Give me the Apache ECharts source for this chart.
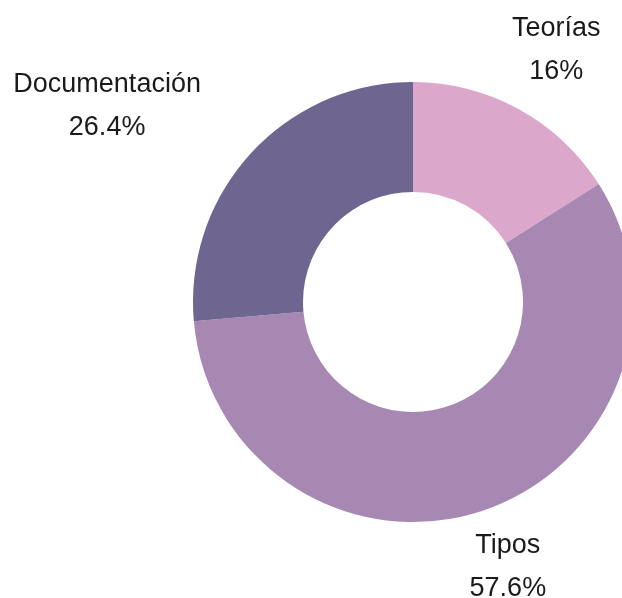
<!DOCTYPE html>
<html>
<head>
<meta charset="utf-8">
<script src="https://cdn.jsdelivr.net/npm/echarts@6/dist/echarts.min.js"></script>
<style>
  html, body { margin: 0; padding: 0; background: #fff; }
  #main { width: 622px; height: 598px; }
</style>
</head>
<body>
<div id="main"></div>
<script>
const categories = ["Teorías", "Tipos", "Documentación"];
const values = [16, 57.6, 26.4];
const colors = ["#dba8cc", "#a788b2", "#6e6690"];
// label line lengths per slice (radial, horizontal)
const lineLen = [67, 60, 70];
const lineLen2 = [0, 0, 87];

const chart = echarts.init(document.getElementById("main"));

const data = categories.map((name, i) => ({
  name: name,
  value: values[i],
  itemStyle: { color: colors[i] },
  labelLine: { show: false, length: lineLen[i], length2: lineLen2[i] },
}));

chart.setOption({
  animation: false,
  series: [
    {
      type: "pie",
      center: [413, 302],
      radius: [110, 220],
      startAngle: 90,
      clockwise: true,
      avoidLabelOverlap: false,
      label: {
        show: true,
        position: "outside",
        formatter: "{b}\n{d}%",
        fontFamily: "Liberation Sans, Arial, sans-serif",
        fontSize: 27,
        lineHeight: 43,
        color: "#1a1a1a",
      },
      labelLine: { show: false },
      labelLayout: { align: "center", verticalAlign: "middle" },
      emphasis: { disabled: true },
      data: data,
    },
  ],
});
</script>
</body>
</html>
